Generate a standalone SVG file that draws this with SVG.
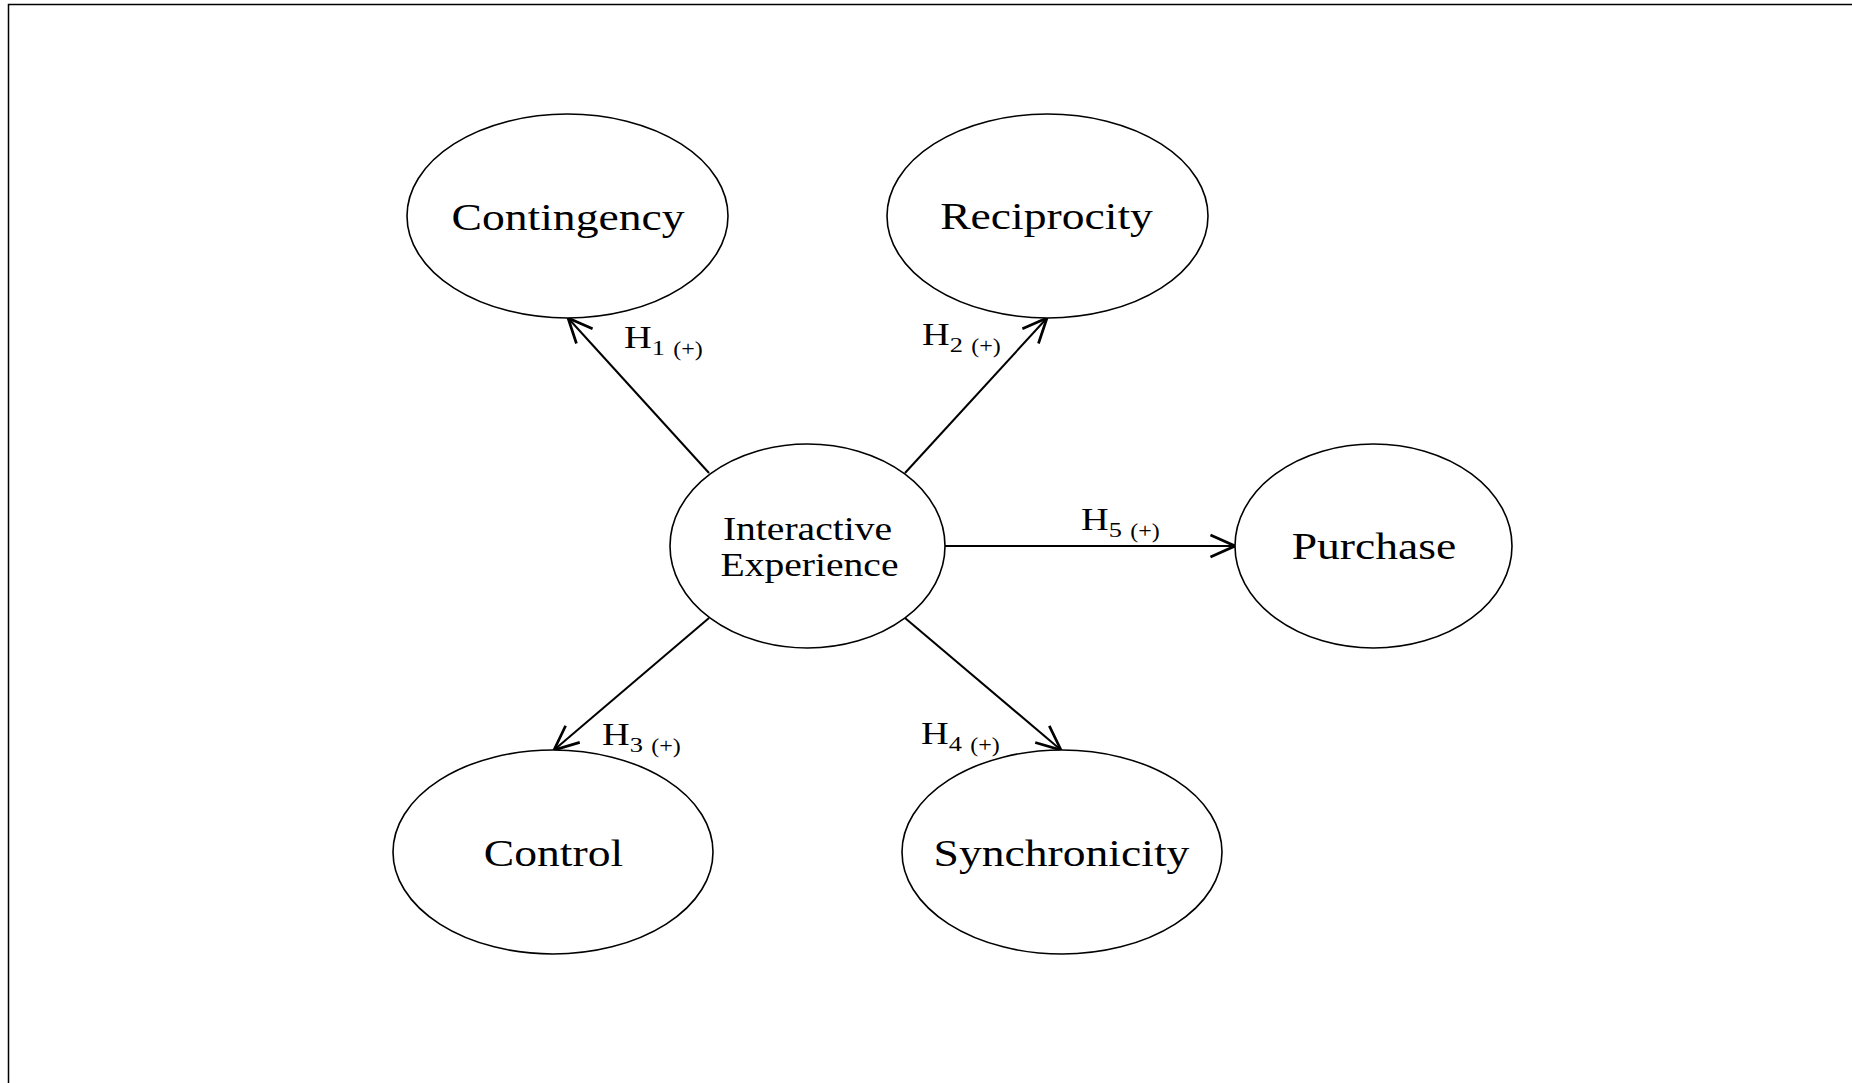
<svg xmlns="http://www.w3.org/2000/svg" width="1852" height="1083" viewBox="0 0 1852 1083">
<defs>
<style>
.node ellipse{fill:#fff;stroke:#000;stroke-width:1.6}
.lbl{font-family:"Liberation Serif","Times New Roman",serif;fill:#000}
.main{font-size:38px;text-anchor:middle}
.ie{font-size:33px;text-anchor:middle}
.h{font-size:32px}
.sub{font-size:22px}
.pm{font-size:20px}
.conn line{stroke:#000;stroke-width:2;fill:none}
</style>
<marker id="arr" markerUnits="userSpaceOnUse" markerWidth="30" markerHeight="30" viewBox="-20 -10 22 20" refX="0" refY="0" orient="auto">
<path d="M-18,-8 L0,0 L-18,8" fill="none" stroke="#000" stroke-width="2"/>
</marker>
</defs>
<rect width="1852" height="1083" fill="#fff"/>
<path d="M8.5,1083 V4.5 H1852" fill="none" stroke="#000" stroke-width="1.5"/>
<g class="conn" id="connectors">
<line x1="709" y1="473" x2="568" y2="318" marker-end="url(#arr)"/>
<line x1="905" y1="473" x2="1047" y2="318" marker-end="url(#arr)"/>
<line x1="709" y1="618" x2="554" y2="750" marker-end="url(#arr)"/>
<line x1="905" y1="618" x2="1061" y2="750" marker-end="url(#arr)"/>
<line x1="945" y1="546" x2="1235" y2="546" marker-end="url(#arr)"/>
</g>
<g class="node" id="contingency">
<ellipse cx="567.5" cy="216" rx="160.5" ry="102"/>
<text class="lbl main" transform="matrix(1.2,0,0,1,568,230)">Contingency</text>
</g>
<g class="node" id="reciprocity">
<ellipse cx="1047.5" cy="216" rx="160.5" ry="102"/>
<text class="lbl main" transform="matrix(1.2,0,0,1,1046.5,229)">Reciprocity</text>
</g>
<g class="node" id="interactive">
<ellipse cx="807.5" cy="546" rx="137.5" ry="102"/>
<text class="lbl ie" transform="matrix(1.2,0,0,1,807.5,540)">Interactive</text>
<text class="lbl ie" transform="matrix(1.2,0,0,1,809.5,576)">Experience</text>
</g>
<g class="node" id="purchase">
<ellipse cx="1373.5" cy="546" rx="138.5" ry="102"/>
<text class="lbl main" transform="matrix(1.2,0,0,1,1374,559)">Purchase</text>
</g>
<g class="node" id="control">
<ellipse cx="553" cy="852" rx="160" ry="102"/>
<text class="lbl main" transform="matrix(1.2,0,0,1,553.5,866)">Control</text>
</g>
<g class="node" id="synchronicity">
<ellipse cx="1062" cy="852" rx="160" ry="102"/>
<text class="lbl main" transform="matrix(1.2,0,0,1,1061.5,866)">Synchronicity</text>
</g>
<g id="labels">
<text class="lbl h" transform="matrix(1.2,0,0,1,624,348)">H<tspan class="sub" dy="7">1</tspan><tspan class="pm" dx="7" dy="1">(+)</tspan></text>
<text class="lbl h" transform="matrix(1.2,0,0,1,922,345)">H<tspan class="sub" dy="7">2</tspan><tspan class="pm" dx="7" dy="1">(+)</tspan></text>
<text class="lbl h" transform="matrix(1.2,0,0,1,602,745)">H<tspan class="sub" dy="7">3</tspan><tspan class="pm" dx="7" dy="1">(+)</tspan></text>
<text class="lbl h" transform="matrix(1.2,0,0,1,921,744)">H<tspan class="sub" dy="7">4</tspan><tspan class="pm" dx="7" dy="1">(+)</tspan></text>
<text class="lbl h" transform="matrix(1.2,0,0,1,1081,530)">H<tspan class="sub" dy="7">5</tspan><tspan class="pm" dx="7" dy="1">(+)</tspan></text>
</g>
</svg>
